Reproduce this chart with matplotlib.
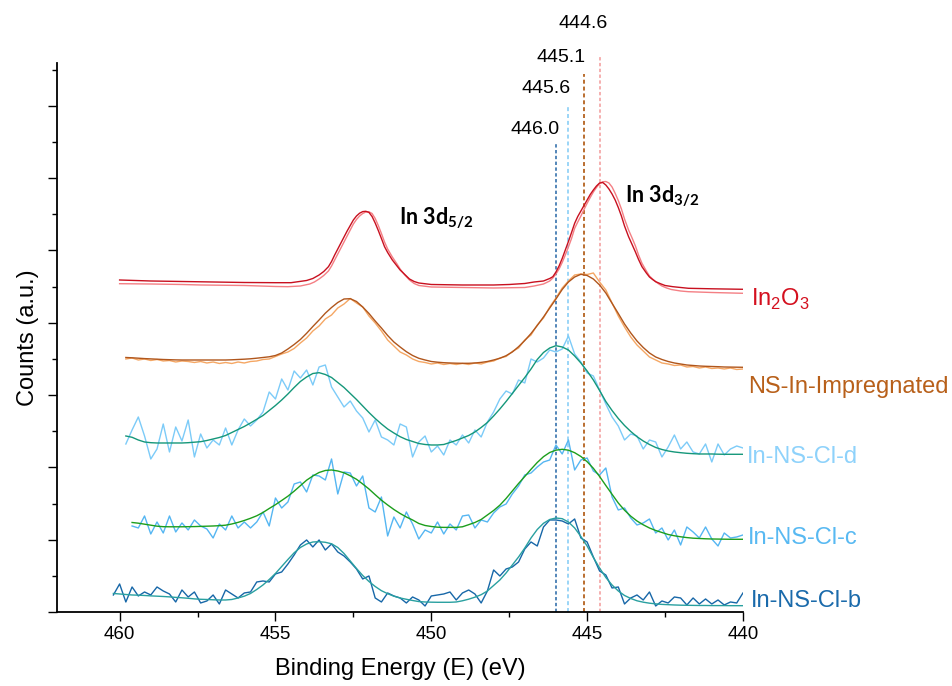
import matplotlib
matplotlib.use('Agg')
import matplotlib.pyplot as plt
import numpy as np
from matplotlib.ticker import MultipleLocator

# ---------------- data (binding energy in eV, counts in a.u.) ----------------
# In2O3 (smooth raw + fit), (energy, counts) pairs
in2o3_fit_pts = [(460.0, 332), (459.0, 331), (458.0, 330.5), (457.0, 330), (456.0, 329.5), (455.0, 329.3),
                 (454.5, 329.3), (454.0, 331.5), (453.8, 333.5), (453.6, 337), (453.45, 340.5), (453.3, 345.3),
                 (453.2, 350.5), (453.1, 357), (453.0, 363), (452.9, 369), (452.8, 375), (452.7, 381),
                 (452.6, 386.5), (452.5, 392), (452.4, 396), (452.3, 398.8), (452.2, 400.4), (452.1, 400.7),
                 (452.0, 399.6), (451.9, 395.5), (451.8, 389), (451.7, 381.5), (451.6, 373.5), (451.5, 365.3),
                 (451.4, 359.5), (451.25, 352), (451.1, 346), (451.0, 342), (450.85, 337.5), (450.7, 333),
                 (450.55, 330.5), (450.4, 329), (450.0, 327.5), (449.0, 327), (448.0, 327), (447.5, 327.5),
                 (447.0, 328.5), (446.7, 330), (446.4, 331), (446.2, 333.5), (446.1, 335.3), (446.0, 340),
                 (445.9, 346), (445.8, 353.5), (445.7, 362), (445.6, 370.5), (445.5, 379.5), (445.4, 388.7),
                 (445.3, 395.5), (445.2, 401), (445.1, 406.5), (445.0, 412), (444.9, 417.5), (444.8, 422),
                 (444.7, 426), (444.6, 429), (444.5, 429.5), (444.4, 427), (444.3, 423), (444.2, 418),
                 (444.1, 412), (444.0, 404.5), (443.9, 396), (443.8, 386), (443.67, 375.3), (443.55, 367),
                 (443.45, 360), (443.35, 352.5), (443.24, 345.3), (443.1, 339), (443.0, 335), (442.9, 332.5),
                 (442.8, 330.3), (442.65, 328.3), (442.5, 326.5), (442.25, 325.3), (442.0, 324.5),
                 (441.75, 323.7), (441.0, 323.2), (440.0, 322.7)]
in2o3_raw_pts = [(460.0, 328.3), (459.0, 328), (458.0, 327.5), (457.4, 327), (456.0, 326.5), (455.0, 325.5),
                 (454.6, 325.3), (454.2, 326), (453.9, 328), (453.75, 330), (453.6, 333), (453.45, 336.5),
                 (453.3, 341), (453.2, 346), (453.1, 352), (453.0, 358), (452.9, 364), (452.8, 370),
                 (452.7, 376), (452.6, 382), (452.5, 388), (452.4, 392.5), (452.3, 396), (452.2, 398.5),
                 (452.1, 400), (452.0, 400.2), (451.9, 398.5), (451.8, 393.5), (451.7, 386.5), (451.6, 378.5),
                 (451.5, 370), (451.4, 363), (451.25, 355), (451.1, 348), (451.0, 343), (450.85, 337),
                 (450.7, 332), (450.55, 328.5), (450.4, 326.5), (450.0, 325), (449.0, 324.5), (448.0, 324),
                 (447.0, 324.5), (446.7, 326), (446.4, 328), (446.2, 331), (446.1, 334), (446.0, 338),
                 (445.9, 343), (445.8, 349.5), (445.7, 357), (445.6, 365), (445.5, 373.5), (445.4, 383.7),
                 (445.3, 390), (445.2, 396), (445.1, 402.5), (445.0, 408.7), (444.9, 414.5), (444.8, 420),
                 (444.7, 424.5), (444.6, 428.5), (444.5, 430.2), (444.4, 430.5), (444.3, 429), (444.2, 425),
                 (444.1, 418.7), (444.0, 411.5), (443.9, 403), (443.8, 393), (443.67, 382), (443.55, 373.5),
                 (443.45, 366), (443.35, 357), (443.24, 348.7), (443.1, 341), (443.0, 336), (442.9, 333),
                 (442.8, 330.3), (442.7, 328), (442.6, 326), (442.45, 324), (442.3, 322.5), (442.0, 321),
                 (441.75, 320.3), (441.0, 319.5), (440.0, 318.7)]

# NS-In-Impregnated, sampled 459.8 -> 440.0 eV every 0.2 eV
imp_range = (459.8, 440.0)
imp_raw = [253, 254, 252, 253, 251.5, 252.5, 251, 251.5, 250, 251,
           250.5, 249.5, 250.5, 249, 250, 248.5, 249.5, 248.5, 250, 249,
           250.5, 251, 252.5, 253, 255.5, 258, 260, 263.5, 269, 274,
           281, 286, 293, 297, 304, 308, 313.5, 309, 305, 296,
           289, 281, 272, 266, 260, 257, 253, 250.5, 249.5, 248,
           249, 247.5, 248.5, 247.5, 248.5, 247.5, 249, 248, 250, 251,
           254, 255.5, 260.5, 264, 272, 277, 287, 294, 305, 314,
           324, 331, 337, 338, 337.5, 339, 330, 322, 309, 296,
           285, 275, 267, 261, 255, 252, 249, 248, 246.5, 247,
           245, 245.5, 244, 245, 243.5, 244, 243, 244, 242.5, 243]
imp_fit = [254.5, 254.2, 253.8, 253.4, 253.1, 252.8, 252.5, 252.3, 252.1, 252,
           252, 252, 252, 252, 252, 252, 252, 252.2, 252.5, 252.8,
           253.2, 253.8, 254.5, 255.2, 256.5, 259, 263, 267.5, 272.5, 278.7,
           285.5, 292, 298.8, 304.5, 309.5, 313, 313.3, 310.5, 305, 298.5,
           291, 284, 276.5, 270, 265, 260.3, 256.5, 253.7, 252, 250.5,
           249.8, 249.3, 249, 248.8, 248.7, 248.7, 249, 249.6, 250.5, 252,
           253.7, 256.3, 260, 265.3, 271.5, 278.5, 286.5, 295, 304, 313,
           322.5, 330, 335, 337.7, 336.5, 333, 327, 319, 308.7, 298.5,
           288, 279, 271, 264.5, 259, 255, 252.5, 250.5, 249, 248,
           247, 246.5, 246, 245.7, 245.5, 245.3, 245, 244.9, 244.8, 244.7]

# In-NS-Cl-d, 459.8 -> 440.0 eV every 0.2 eV
cld_range = (459.8, 440.0)
cld_raw = [168, 182, 195, 176, 153, 163, 188, 160, 185, 171,
           192, 155, 178, 164, 172, 167, 184, 167, 182, 193,
           186, 192, 200, 220, 213, 233, 222, 241, 234, 242,
           227, 245, 247, 225, 215, 205, 211, 201, 194, 180,
           192, 175, 172, 167, 188, 185, 155, 170, 176, 160,
           166, 157, 172, 167, 177, 169, 182, 175, 190, 200,
           213, 221, 218, 232, 229, 253, 250, 254, 262, 260,
           263, 276, 258, 250, 239, 236, 222, 208, 195, 186,
           172, 178, 176, 163, 172, 170, 155, 165, 177, 163,
           170, 160, 158, 168, 150, 168, 157, 163, 166, 164]
cld_fit = [176, 174.7, 172, 170, 169.3, 169, 169, 169, 169, 169,
           169.3, 169.8, 170.3, 171.5, 173, 174.5, 176.5, 179.5, 182.5, 185.5,
           189, 192.7, 196.5, 201.5, 206.5, 212, 218, 224.5, 230.5, 235,
           238.5, 239.3, 237.5, 234.5, 229.5, 224.5, 218.5, 212.5, 206, 199.5,
           193.5, 188, 183, 179, 175.3, 172.5, 170.5, 168.5, 167.5, 167,
           167, 167.5, 169.5, 171.5, 174, 176.5, 180, 184.5, 189.5, 196,
           203, 210.5, 218.5, 226.5, 234.5, 243, 252.5, 259.5, 264, 266.3,
           265, 262, 256, 249, 241, 232, 221.5, 210.5, 201.5, 193.5,
           186.5, 180.5, 175.3, 171, 167.5, 164.5, 162.5, 161, 160, 159.3,
           158.7, 158.3, 158, 158, 158, 157.8, 157.7, 157.7, 157.7, 157.7]

# In-NS-Cl-c, 459.6 -> 440.0 eV every 0.2 eV
clc_range = (459.6, 440.0)
clc_raw = [86, 84, 96, 78, 90, 79, 96, 80, 89,
           82, 92, 86, 83, 74, 88, 82, 96, 84, 90,
           84, 90, 100, 86, 114, 104, 110, 128, 130, 120,
           137, 136, 132, 153, 118, 140, 139, 126, 136, 104,
           100, 115, 76, 95, 84, 100, 88, 73, 82, 79,
           90, 78, 88, 82, 96, 97, 84, 92, 90, 99,
           105, 108, 118, 126, 137, 139, 145, 150, 152, 167,
           158, 172, 142, 152, 154, 141, 137, 144, 115, 102,
           104, 94, 87, 89, 93, 79, 84, 72, 82, 67,
           85, 80, 74, 85, 73, 66, 79, 74, 75, 77]
clc_fit = [89.5, 88.8, 87.8, 86.8, 85.8, 85.3, 85.2, 85.2, 85.2,
           85.3, 85.4, 85.6, 85.8, 86.0, 86.3, 86.8, 88, 89.6, 91.5,
           93.7, 96.2, 99.5, 103.5, 107.3, 111.5, 115.8, 120.8, 126.3, 131.8,
           136, 139.5, 141.5, 142, 141, 139.2, 136.2, 132.7, 128, 123,
           117.3, 111.8, 107, 102.5, 98.5, 95, 92, 88.5, 86.5, 85.5,
           84.8, 84.6, 84.6, 84.6, 85.2, 87.3, 89.5, 92.5, 97, 101.5,
           106.8, 113.5, 121, 128.5, 135.5, 142.7, 149.5, 155.3, 159.5, 161.8,
           162.7, 161.8, 159.3, 155.5, 150.3, 143.7, 135.5, 126.5, 117.7, 109,
           101.8, 95.8, 91, 87.2, 84, 81.5, 79.5, 77.5, 76.2, 75.2,
           74.4, 73.8, 73.5, 73.2, 73, 72.9, 72.8, 72.7, 72.7, 72.7]

# In-NS-Cl-b, 460.2 -> 440.0 eV every 0.2 eV
clb_range = (460.2, 440.0)
clb_raw = [17, 28, 10, 25, 16, 20, 17, 25, 21, 18,
           10, 22, 15, 20, 9, 11, 17, 8, 22, 18,
           14, 19, 20, 30, 31, 30, 38, 40, 48, 57,
           67, 72, 65, 72, 62, 68, 60, 56, 50, 43,
           33, 36, 14, 10, 19, 16, 14, 9, 15, 12,
           6, 16, 17, 18, 20, 12, 19, 22, 18, 9,
           21, 42, 36, 43, 45, 50, 63, 70, 66, 85,
           92, 92, 91, 88, 93, 74, 70, 55, 41, 37,
           24, 25, 8, 14, 17, 12, 20, 6, 11, 9,
           15, 14, 7, 14, 8, 13, 8, 12, 7, 10,
           9, 19]
clb_fit = [18.5, 18, 17.5, 17, 16.8, 16.5, 16.1, 15.8, 15.5, 15.1,
           14.6, 14.2, 13.7, 13.1, 12.7, 12.5, 12.2, 12, 12, 12.5,
           14, 15.8, 18.5, 22.5, 27, 32.5, 38.5, 45.5, 52.5, 59.2,
           64.5, 68, 70, 70.3, 69.7, 68.2, 64.5, 58.5, 51, 43.5,
           36.5, 30.5, 25.5, 21.3, 18.3, 15.8, 14, 12.7, 11.5, 10.4,
           10, 9.8, 9.7, 9.7, 9.7, 10, 11.2, 12.8, 14.8, 17.3,
           21, 26.5, 32, 39, 47, 55, 64, 74, 82.5, 88.7,
           92.5, 94, 93.3, 90, 84, 75.5, 66, 54.5, 44, 34.5,
           27, 21, 16.5, 13.5, 11.2, 9.8, 8.8, 8.1, 7.6, 7.3,
           7, 6.8, 6.7, 6.6, 6.5, 6.5, 6.4, 6.4, 6.4, 6.3,
           6.3, 6.3]

series_names = ['In$_\\mathrm{2}$O$_\\mathrm{3}$', 'NS-In-Impregnated', 'In-NS-Cl-d', 'In-NS-Cl-c', 'In-NS-Cl-b']
ref_lines = [446.0, 445.6, 445.1, 444.6]
ref_labels = ['446.0', '445.6', '445.1', '444.6']
peak_labels = ['In 3d$_{\\mathbf{5/2}}$', 'In 3d$_{\\mathbf{3/2}}$']
x_ticks = [460, 455, 450, 445, 440]

# ---------------- style ----------------
plt.rcParams['font.family'] = ['Liberation Sans', 'DejaVu Sans']
plt.rcParams['mathtext.fontset'] = 'custom'
plt.rcParams['mathtext.rm'] = 'Liberation Sans'
plt.rcParams['mathtext.bf'] = 'Lato:bold'

fig = plt.figure(figsize=(9.53, 6.86), dpi=100)
ax = fig.add_axes([0.0601, 0.1079, 0.7195, 0.8007])
ax.set_xlim(462, 440)
ax.set_ylim(0, 549.3)

def grid(rng, vals):
    return np.linspace(rng[0], rng[1], len(vals))

# reference dashed lines
ref_colors = ['#2466a6', '#93d2f7', '#b4621f', '#f29a9a']
ref_tops = [468, 505, 538, 557]
ref_lw = [1.1, 1.3, 1.3, 1.1]
for xv, top, c, lw in zip(ref_lines, ref_tops, ref_colors, ref_lw):
    ax.plot([xv, xv], [0, top], color=c, lw=lw, ls=(0, (2.2, 1.6)), clip_on=False, zorder=1)

raw_lw = 1.0
fit_lw = 1.0
# In2O3
rE, rY = zip(*in2o3_raw_pts)
fE, fY = zip(*in2o3_fit_pts)
ax.plot(rE, rY, color='#f47f84', lw=raw_lw, zorder=2)
ax.plot(fE, fY, color='#c8101f', lw=fit_lw, zorder=3)
# NS-In-Impregnated
ax.plot(grid(imp_range, imp_raw), imp_raw, color='#f5a764', lw=raw_lw, zorder=2)
ax.plot(grid(imp_range, imp_fit), imp_fit, color='#b0561c', lw=fit_lw, zorder=3)
# In-NS-Cl-d
ax.plot(grid(cld_range, cld_raw), cld_raw, color='#7ccbf8', lw=raw_lw, zorder=2)
ax.plot(grid(cld_range, cld_fit), cld_fit, color='#15977a', lw=fit_lw, zorder=3)
# In-NS-Cl-c
ax.plot(grid(clc_range, clc_raw), clc_raw, color='#55b6f2', lw=raw_lw, zorder=2)
ax.plot(grid(clc_range, clc_fit), clc_fit, color='#1c9e1c', lw=fit_lw, zorder=3)
# In-NS-Cl-b
ax.plot(grid(clb_range, clb_raw), clb_raw, color='#1767a8', lw=raw_lw, zorder=2)
ax.plot(grid(clb_range, clb_fit), clb_fit, color='#29a0a0', lw=fit_lw, zorder=3)

# axes styling
for s in ['top', 'right']:
    ax.spines[s].set_visible(False)
for s in ['left', 'bottom']:
    ax.spines[s].set_linewidth(1.3)
ax.set_xticks(x_ticks)
ax.xaxis.set_minor_locator(MultipleLocator(2.5))
ax.yaxis.set_major_locator(MultipleLocator(72.32))
ax.yaxis.set_minor_locator(MultipleLocator(36.16))
ax.tick_params(which='major', direction='out', length=6.5, width=1.0, labelsize=13.5, pad=3.5)
ax.tick_params(which='minor', direction='out', length=3.4, width=1.0)
ax.tick_params(axis='y', which='both', labelleft=False)

ax.set_xlabel('Binding Energy (E) (eV)', fontsize=17, labelpad=11)
ax.set_ylabel('Counts (a.u.)', fontsize=17, labelpad=7)

# reference labels
ref_text_pos = [(445.87, 482), (445.52, 523), (445.04, 555), (444.33, 589)]
for (tx, ty), lab in zip(ref_text_pos, ref_labels):
    ax.text(tx, ty, lab, fontsize=14, ha='right', va='center', clip_on=False)

# peak labels
ax.text(451.03, 388, peak_labels[0], fontsize=15.5, fontweight='bold', family='Lato',
        ha='left', va='baseline')
ax.text(443.78, 410, peak_labels[1], fontsize=15.5, fontweight='bold', family='Lato',
        ha='left', va='baseline')

# series labels
label_colors = ['#d4101f', '#b8601a', '#8ed2fb', '#58b9f2', '#1a6aab']
label_pos = [(439.75, 306), (439.84, 219), (439.87, 149), (439.84, 68), (439.74, 5.3)]
for (tx, ty), lab, c in zip(label_pos, series_names, label_colors):
    ax.text(tx, ty, lab, fontsize=17, color=c, ha='left', va='baseline', clip_on=False)

fig.savefig('out.png', dpi=100)
